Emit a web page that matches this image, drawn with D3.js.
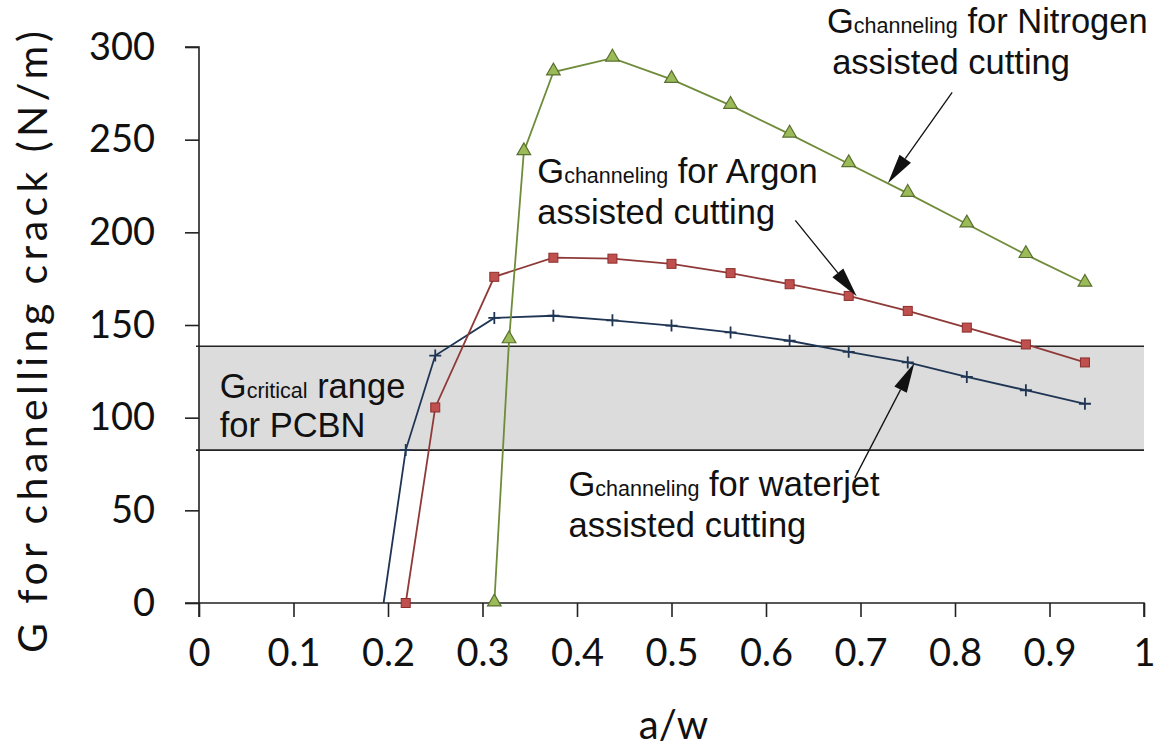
<!DOCTYPE html>
<html><head><meta charset="utf-8">
<script src="https://cdn.jsdelivr.net/npm/d3@7"></script>
<style>
html,body{margin:0;padding:0;background:#fff;}
svg{display:block;}
</style></head>
<body><svg id="c" width="1163" height="748"></svg>
<script>
// ---- data ----
const waterjetX = [0.1953125, 0.21875, 0.25, 0.3125, 0.375, 0.4375, 0.5, 0.5625, 0.625, 0.6875, 0.75, 0.8125, 0.875, 0.9375];
const waterjetG = [0, 82.5, 133.5, 153.8, 155, 152.5, 149.7, 146, 141.5, 135.5, 129.8, 122, 114.8, 107.5];
const argonX = [0.21875, 0.25, 0.3125, 0.375, 0.4375, 0.5, 0.5625, 0.625, 0.6875, 0.75, 0.8125, 0.875, 0.9375];
const argonG = [0, 105.5, 176, 186.3, 185.8, 183, 178, 172, 165.7, 157.6, 148.6, 139.5, 129.8];
const nitrogenX = [0.3125, 0.328125, 0.34375, 0.375, 0.4375, 0.5, 0.5625, 0.625, 0.6875, 0.75, 0.8125, 0.875, 0.9375];
const nitrogenG = [0, 142, 243.5, 286.5, 294, 282.5, 268.5, 253, 237, 221, 204.5, 188, 172.5];
const criticalRange = [82.5, 138.5];
const xTicks = [0, 0.1, 0.2, 0.3, 0.4, 0.5, 0.6, 0.7, 0.8, 0.9, 1];
const xTickLabels = ["0", "0.1", "0.2", "0.3", "0.4", "0.5", "0.6", "0.7", "0.8", "0.9", "1"];
const yTicks = [0, 50, 100, 150, 200, 250, 300];
const yTickLabels = ["0", "50", "100", "150", "200", "250", "300"];
const xTitle = "a/w";
const yTitle = "G for chanelling crack (N/m)";
// annotations: text lines, anchor in data coords, arrow start/end in data coords
const annotations = [
  {sub: "channeling", tail: " for Nitrogen", line2: "assisted cutting", x: 0.6645, y1: 307.5, y2: 285.5, x2: 0.67, arrow: [[0.797, 275.5], [0.729, 226.5]]},
  {sub: "channeling", tail: " for Argon", line2: "assisted cutting", x: 0.358, y1: 226.5, y2: 204.5, x2: 0.358, arrow: [[0.631, 206.5], [0.696, 165.5]]},
  {sub: "channeling", tail: " for waterjet", line2: "assisted cutting", x: 0.391, y1: 57.5, y2: 35.5, x2: 0.391, arrow: [[0.694, 67.5], [0.757, 129.5]]},
  {sub: "critical", tail: " range", line2: "for PCBN", x: 0.022, y1: 110.5, y2: 89.5, x2: 0.022, arrow: null}
];

(function () {
// ---- layout ----
const svg = d3.select("#c");
const mLeft = 199, mRight = 1144, mTop = 47, mBottom = 603;
const x = d3.scaleLinear().domain([0, 1]).range([mLeft, mRight]);
const y = d3.scaleLinear().domain([0, 300]).range([mBottom, mTop]);

// critical band
svg.append("rect")
  .attr("x", x(0)).attr("width", x(1) - x(0))
  .attr("y", y(criticalRange[1])).attr("height", y(criticalRange[0]) - y(criticalRange[1]))
  .attr("fill", "#dcdcdc");
criticalRange.forEach(v => {
  svg.append("line").attr("x1", x(0) - 3).attr("x2", x(1))
    .attr("y1", y(v)).attr("y2", y(v)).attr("stroke", "#222").attr("stroke-width", 1.6);
});

// axes
const tickFont = "Lato, 'Open Sans', sans-serif";
const yAxis = svg.append("g").attr("transform", `translate(${mLeft},0)`)
  .call(d3.axisLeft(y).tickValues(yTicks).tickFormat((d, i) => yTickLabels[i]).tickSize(14).tickPadding(30));
const xAxis = svg.append("g").attr("transform", `translate(0,${mBottom})`)
  .call(d3.axisBottom(x).tickValues(xTicks).tickFormat((d, i) => xTickLabels[i]).tickSize(14).tickPadding(22));
[yAxis, xAxis].forEach(g => {
  g.select(".domain").attr("stroke", "#222").attr("stroke-width", 1.6);
  g.selectAll(".tick line").attr("stroke", "#222").attr("stroke-width", 1.6);
  g.selectAll(".tick text").attr("font-family", tickFont).attr("font-size", 38).attr("fill", "#111");
});
yAxis.select(".domain").attr("d", `M-14,${mTop}H0V${mBottom}H-14`);
xAxis.select(".domain").attr("d", `M${mLeft},14V0H${mRight}V14`);

svg.append("text").attr("x", (mLeft + mRight) / 2 + 2).attr("y", 739)
  .attr("text-anchor", "middle").attr("font-family", tickFont).attr("font-size", 40).attr("fill", "#111")
  .text(xTitle);
svg.append("text").attr("transform", `translate(47,${(mTop + mBottom) / 2 + 17}) rotate(-90)`)
  .attr("text-anchor", "middle").attr("font-family", tickFont).attr("font-size", 41).attr("fill", "#111")
  .attr("textLength", 622).attr("lengthAdjust", "spacing")
  .text(yTitle);

// series
const line = d3.line().x(d => x(d[0])).y(d => y(d[1]));
function series(xs, gs, color) {
  const pts = xs.map((v, i) => [v, gs[i]]);
  svg.append("path").datum(pts).attr("d", line).attr("fill", "none").attr("stroke", color).attr("stroke-width", 1.8);
  return pts;
}
const wj = series(waterjetX, waterjetG, "#1f3553");
const ar = series(argonX, argonG, "#8f3a38");
const ni = series(nitrogenX, nitrogenG, "#6f8c3a");

// markers
svg.append("g").selectAll("path").data(wj.slice(1)).join("path")
  .attr("d", d => `M${x(d[0]) - 6},${y(d[1])}H${x(d[0]) + 6}M${x(d[0])},${y(d[1]) - 6}V${y(d[1]) + 6}`)
  .attr("stroke", "#1f3553").attr("stroke-width", 1.8);
svg.append("g").selectAll("rect").data(ar).join("rect")
  .attr("x", d => x(d[0]) - 4.5).attr("y", d => y(d[1]) - 4.5).attr("width", 9).attr("height", 9)
  .attr("fill", "#c0504d").attr("stroke", "#8b2e2c").attr("stroke-width", 1);
const tri = d3.symbol().type(d3.symbolTriangle).size(80);
svg.append("g").selectAll("path").data(ni).join("path")
  .attr("transform", d => `translate(${x(d[0])},${y(d[1]) - 1})`)
  .attr("d", tri).attr("fill", "#9bbb59").attr("stroke", "#5a7030").attr("stroke-width", 1.2);

// annotations
const annFont = "'Liberation Sans', Arial, sans-serif";
annotations.forEach(a => {
  const t = svg.append("text").attr("x", x(a.x)).attr("y", y(a.y1))
    .attr("font-family", annFont).attr("font-size", 34.5).attr("fill", "#111");
  t.append("tspan").text("G");
  t.append("tspan").attr("font-size", 21.5).text(a.sub);
  t.append("tspan").text(a.tail);
  svg.append("text").attr("x", x(a.x2)).attr("y", y(a.y2))
    .attr("font-family", annFont).attr("font-size", 34.5).attr("fill", "#111").text(a.line2);
  if (a.arrow) {
    const [s, e] = a.arrow;
    const x0 = x(s[0]), y0 = y(s[1]), x1 = x(e[0]), y1 = y(e[1]);
    const ang = Math.atan2(y1 - y0, x1 - x0);
    const L = 30, W = 7;
    const bx = x1 - L * Math.cos(ang), by = y1 - L * Math.sin(ang);
    svg.append("line").attr("x1", x0).attr("y1", y0).attr("x2", bx).attr("y2", by)
      .attr("stroke", "#111").attr("stroke-width", 1.3);
    const px = -Math.sin(ang) * W, py = Math.cos(ang) * W;
    svg.append("path").attr("d", `M${x1},${y1}L${bx + px},${by + py}L${bx - px},${by - py}Z`).attr("fill", "#111");
  }
});
})();
</script></body></html>
